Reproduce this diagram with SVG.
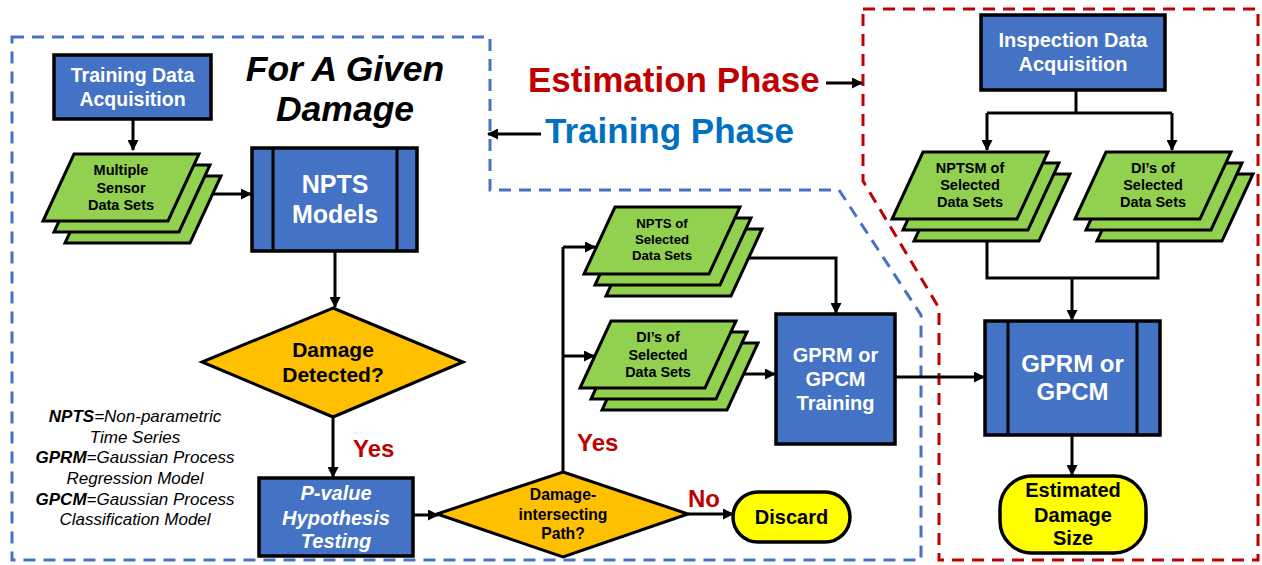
<svg xmlns="http://www.w3.org/2000/svg" xmlns:xlink="http://www.w3.org/1999/xlink" width="1262" height="565" viewBox="0 0 1262 565">
  <style>
    text { font-family: "Liberation Sans", Arial, sans-serif; font-weight: bold; text-anchor: middle; }
    text.s { text-anchor: start; }
    .box { fill: #4472C4; stroke: #000; stroke-width: 3.5; }
    .bar { stroke: #000; stroke-width: 3; }
    .dia { fill: #FFC000; stroke: #000; stroke-width: 3; }
    .term { fill: #FFFF00; stroke: #000; stroke-width: 3.5; }
    .sheet { fill: #92D050; stroke: #000; stroke-width: 3; }
    .wt { fill: #fff; }
    .bk { fill: #000; }
    .lbl { fill: #C00000; font-size: 24px; }
    .leg { font-size: 17px; font-style: italic; font-weight: normal; fill: #000; }
    .leg tspan.k { font-weight: bold; }
    .wire { fill: none; stroke: #000; stroke-width: 3; }
    .arrow { fill: none; stroke: #000; stroke-width: 3; marker-end: url(#head); }
    .zone-t { fill: none; stroke: #4472C4; stroke-width: 3; stroke-dasharray: 12 8; }
    .zone-e { fill: none; stroke: #C00000; stroke-width: 3; stroke-dasharray: 12 8; }
  </style>
  <defs>
    <marker id="head" markerUnits="userSpaceOnUse" markerWidth="11" markerHeight="11" refX="10" refY="5.5" orient="auto">
      <path d="M0,0 L11,5.5 L0,11 Z" fill="#000"/>
    </marker>
    <path id="para" d="M31,0 H156 L125,67 H0 Z"/>
    <g id="stack">
      <use xlink:href="#para" class="sheet" transform="translate(22,22)"/>
      <use xlink:href="#para" class="sheet" transform="translate(11,11)"/>
      <use xlink:href="#para" class="sheet"/>
    </g>
  </defs>

  <!-- phase boundaries -->
  <g id="zones">
    <path class="zone-t" d="M12,37 H490 V190 H839 L921,315 V560 H12 Z"/>
    <path class="zone-e" d="M863,9 H1258 V560 H939 V308 L863,181 Z"/>
  </g>

  <!-- headings -->
  <g id="titles">
    <text x="345" y="81" font-size="35.5" font-style="italic">For A Given</text>
    <text x="345" y="121" font-size="35.5" font-style="italic">Damage</text>
    <text class="s" x="528" y="92" font-size="35" fill="#C00000">Estimation Phase</text>
    <text class="s" x="545" y="143" font-size="35" fill="#0070C0">Training Phase</text>
  </g>

  <!-- connectors -->
  <g id="connectors">
    <path class="arrow" d="M826,83 H862"/>
    <path class="arrow" d="M541,134 H488"/>
    <path class="arrow" d="M133,119 V150"/>
    <path class="arrow" d="M213,194 H251"/>
    <path class="arrow" d="M335,251 V307"/>
    <path class="arrow" d="M333,418 V477"/>
    <path class="arrow" d="M413,515 H438"/>
    <path class="wire" d="M563,472 V247"/>
    <path class="arrow" d="M563,247 H595"/>
    <path class="arrow" d="M563,356 H594"/>
    <path class="arrow" d="M688,514 H733"/>
    <path class="arrow" d="M748,258 H836 V313"/>
    <path class="arrow" d="M744,374 H775"/>
    <path class="arrow" d="M895,377 H984"/>
    <path class="arrow" d="M1072,435 V475"/>
    <path class="wire" d="M1076,90 V113 M987,113 H1172"/>
    <path class="arrow" d="M987,113 V150"/>
    <path class="arrow" d="M1172,113 V150"/>
    <path class="wire" d="M987,241 V278 H1158 V241"/>
    <path class="arrow" d="M1072,278 V320"/>
  </g>

  <!-- training phase nodes -->
  <g id="training-data">
    <rect class="box" x="54" y="55" width="157" height="64"/>
    <text class="wt" x="132.5" y="82" font-size="19.5">Training Data</text>
    <text class="wt" x="132.5" y="106" font-size="19.5">Acquisition</text>
  </g>

  <g id="sensor-data">
    <use xlink:href="#stack" transform="translate(43,154)"/>
    <text class="bk" x="121" y="175" font-size="14.5">Multiple</text>
    <text class="bk" x="121" y="193" font-size="14.5">Sensor</text>
    <text class="bk" x="121" y="210" font-size="14.5">Data Sets</text>
  </g>

  <g id="npts-models">
    <rect class="box" x="252" y="148" width="165" height="103"/>
    <line class="bar" x1="273" y1="148" x2="273" y2="251"/>
    <line class="bar" x1="397" y1="148" x2="397" y2="251"/>
    <text class="wt" x="335" y="193" font-size="25">NPTS</text>
    <text class="wt" x="335" y="223" font-size="25">Models</text>
  </g>

  <g id="damage-detected">
    <polygon class="dia" points="333,308 463,362 333,417 202,362"/>
    <text class="bk" x="333" y="357" font-size="21">Damage</text>
    <text class="bk" x="333" y="382" font-size="21">Detected?</text>
  </g>

  <g id="yes-1"><text class="lbl s" x="353" y="457">Yes</text></g>

  <g id="p-value">
    <rect class="box" x="259" y="478" width="154" height="78"/>
    <text class="wt" x="336" y="500" font-size="20" font-style="italic">P-value</text>
    <text class="wt" x="336" y="525" font-size="20" font-style="italic">Hypothesis</text>
    <text class="wt" x="336" y="548" font-size="20" font-style="italic">Testing</text>
  </g>

  <g id="legend">
    <text class="leg" x="135" y="422"><tspan class="k">NPTS</tspan>=Non-parametric</text>
    <text class="leg" x="135" y="443">Time Series</text>
    <text class="leg" x="135" y="463"><tspan class="k">GPRM</tspan>=Gaussian Process</text>
    <text class="leg" x="135" y="484">Regression Model</text>
    <text class="leg" x="135" y="505"><tspan class="k">GPCM</tspan>=Gaussian Process</text>
    <text class="leg" x="135" y="525">Classification Model</text>
  </g>

  <g id="path-check">
    <polygon class="dia" points="563,472 688,514 563,557 437,514"/>
    <text class="bk" x="563" y="500" font-size="15.7">Damage-</text>
    <text class="bk" x="563" y="520" font-size="15.7">intersecting</text>
    <text class="bk" x="563" y="539" font-size="15.7">Path?</text>
  </g>

  <g id="yes-2"><text class="lbl s" x="577" y="451">Yes</text></g>
  <g id="no"><text class="lbl s" x="688" y="507">No</text></g>

  <g id="discard">
    <rect class="term" x="733" y="492" width="117" height="50" rx="25" ry="25"/>
    <text class="bk" x="791.5" y="524" font-size="20">Discard</text>
  </g>

  <g id="npts-selected">
    <use xlink:href="#stack" transform="translate(584,207)"/>
    <text class="bk" x="662" y="228" font-size="13.2">NPTS of</text>
    <text class="bk" x="662" y="244" font-size="13.2">Selected</text>
    <text class="bk" x="662" y="260" font-size="13.2">Data Sets</text>
  </g>

  <g id="di-selected">
    <use xlink:href="#stack" transform="translate(580,321)"/>
    <text class="bk" x="658" y="342" font-size="14.4">DI’s of</text>
    <text class="bk" x="658" y="360" font-size="14.4">Selected</text>
    <text class="bk" x="658" y="377" font-size="14.4">Data Sets</text>
  </g>

  <g id="gp-training">
    <rect class="box" x="776" y="314" width="119" height="130"/>
    <text class="wt" x="835.5" y="362" font-size="20">GPRM or</text>
    <text class="wt" x="835.5" y="386" font-size="20">GPCM</text>
    <text class="wt" x="835.5" y="410" font-size="20">Training</text>
  </g>

  <!-- estimation phase nodes -->
  <g id="inspection-data">
    <rect class="box" x="981" y="15" width="184" height="75"/>
    <text class="wt" x="1073" y="47" font-size="20">Inspection Data</text>
    <text class="wt" x="1073" y="71" font-size="20">Acquisition</text>
  </g>

  <g id="nptsm-selected">
    <use xlink:href="#stack" transform="translate(892,152)"/>
    <text class="bk" x="970" y="173" font-size="14.5">NPTSM of</text>
    <text class="bk" x="970" y="190" font-size="14.5">Selected</text>
    <text class="bk" x="970" y="207" font-size="14.5">Data Sets</text>
  </g>

  <g id="di-selected-est">
    <use xlink:href="#stack" transform="translate(1075,152)"/>
    <text class="bk" x="1153" y="173" font-size="14.5">DI’s of</text>
    <text class="bk" x="1153" y="190" font-size="14.5">Selected</text>
    <text class="bk" x="1153" y="207" font-size="14.5">Data Sets</text>
  </g>

  <g id="gp-model">
    <rect class="box" x="985" y="321" width="175" height="114"/>
    <line class="bar" x1="1008" y1="321" x2="1008" y2="435"/>
    <line class="bar" x1="1137" y1="321" x2="1137" y2="435"/>
    <text class="wt" x="1072.5" y="372" font-size="24">GPRM or</text>
    <text class="wt" x="1072.5" y="400" font-size="24">GPCM</text>
  </g>

  <g id="damage-size">
    <rect class="term" x="1000" y="476" width="146" height="77" rx="32" ry="32"/>
    <text class="bk" x="1073" y="497" font-size="20">Estimated</text>
    <text class="bk" x="1073" y="522" font-size="20">Damage</text>
    <text class="bk" x="1073" y="545" font-size="20">Size</text>
  </g>
</svg>
